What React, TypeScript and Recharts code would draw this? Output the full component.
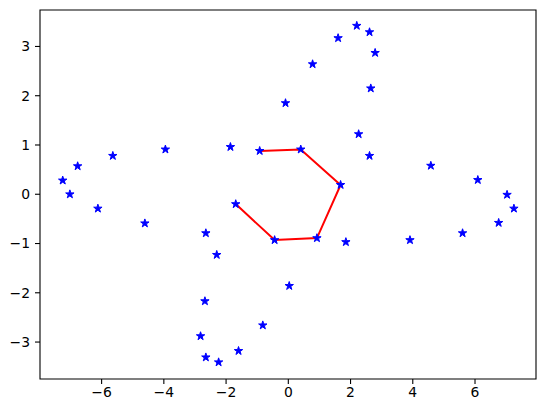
import React from "react";
import { ScatterChart, Scatter, XAxis, YAxis, ReferenceArea } from "recharts";

// all scattered points
const pointX = [
  -7.25, -7.02, -6.77, -5.64, -3.95, -1.86, -0.92, -1.69, -6.12, -4.61,
  -2.65, -2.3, -0.44, 0.03, -2.68, -0.82, -2.82, -2.65, -2.24, -1.6,
  7.25, 7.03, 6.76, 5.6, 3.91, 1.85, 0.92, 1.68, 6.09, 4.58,
  2.61, 2.26, 0.4, -0.09, 2.65, 0.78, 2.79, 2.61, 2.2, 1.6,
];
const pointY = [
  0.28, 0.0, 0.57, 0.78, 0.91, 0.96, 0.88, -0.2, -0.29, -0.59,
  -0.79, -1.23, -0.93, -1.86, -2.17, -2.66, -2.88, -3.31, -3.41, -3.18,
  -0.29, -0.01, -0.58, -0.79, -0.93, -0.97, -0.89, 0.19, 0.29, 0.58,
  0.78, 1.22, 0.91, 1.85, 2.15, 2.64, 2.87, 3.29, 3.42, 3.17,
];

// red polyline through the inner points
const pathX = [-1.69, -0.44, 0.92, 1.68, 0.4, -0.92];
const pathY = [-0.2, -0.93, -0.89, 0.19, 0.91, 0.88];

const xTicks = [-6, -4, -2, 0, 2, 4, 6];
const yTicks = [-3, -2, -1, 0, 1, 2, 3];

const X_DOMAIN: [number, number] = [-7.98, 7.96];
const Y_DOMAIN: [number, number] = [-3.75, 3.74];

const points = pointX.map((x, i) => ({ x, y: pointY[i] }));
const path = pathX.map((x, i) => ({ x, y: pathY[i] }));

const fmt = (v: number) => String(v).replace("-", "\u2212");

const Star = (props: any) => {
  const { cx, cy } = props;
  if (cx == null || cy == null) return <g />;
  const R = 4.4;
  const r = R * 0.382;
  const pts: string[] = [];
  for (let k = 0; k < 10; k++) {
    const a = -Math.PI / 2 + (k * Math.PI) / 5;
    const rad = k % 2 === 0 ? R : r;
    pts.push(`${cx + rad * Math.cos(a)},${cy + rad * Math.sin(a)}`);
  }
  return <polygon points={pts.join(" ")} fill="#0000ff" stroke="#0000ff" strokeWidth={1} strokeLinejoin="round" />;
};

const tickStyle = { fill: "#000", fontSize: 13.9, fontFamily: "DejaVu Sans" };

export default function App() {
  return (
    <div style={{ position: "absolute", left: 0, top: 0, background: "#fff" }}>
      <ScatterChart width={546} height={413} margin={{ top: 10, right: 10, left: 0, bottom: 0 }}>
        <XAxis
          type="number"
          dataKey="x"
          domain={X_DOMAIN}
          ticks={xTicks}
          tickFormatter={fmt}
          allowDataOverflow
          height={34}
          tickSize={5}
          tickMargin={3}
          tick={tickStyle}
          axisLine={false}
          tickLine={{ stroke: "#000", strokeWidth: 1.1 }}
        />
        <YAxis
          type="number"
          dataKey="y"
          domain={Y_DOMAIN}
          ticks={yTicks}
          tickFormatter={fmt}
          allowDataOverflow
          width={40}
          tickSize={5}
          tickMargin={5}
          tick={tickStyle}
          axisLine={false}
          tickLine={{ stroke: "#000", strokeWidth: 1.1 }}
        />
        <Scatter
          data={path}
          line={{ stroke: "#ff0000", strokeWidth: 2 }}
          lineJointType="linear"
          shape={() => <g />}
          isAnimationActive={false}
        />
        <Scatter data={points} shape={Star} isAnimationActive={false} />
        <ReferenceArea
          x1={X_DOMAIN[0]}
          x2={X_DOMAIN[1]}
          y1={Y_DOMAIN[0]}
          y2={Y_DOMAIN[1]}
          fill="none"
          stroke="#000"
          strokeWidth={1.1}
          ifOverflow="visible"
        />
      </ScatterChart>
    </div>
  );
}
